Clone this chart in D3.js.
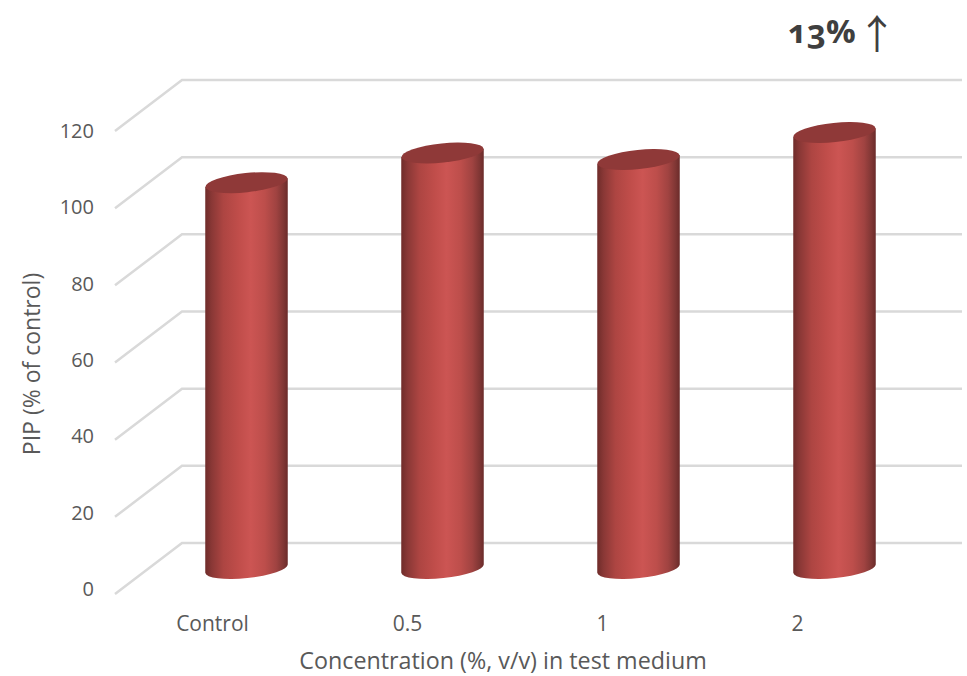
<!DOCTYPE html>
<html>
<head>
<meta charset="utf-8">
<script src="https://cdn.jsdelivr.net/npm/d3@7"></script>
<style>
html,body{margin:0;padding:0;background:#fff;overflow:hidden}
text{font-family:"Open Sans",sans-serif;fill:#595959}
</style>
</head>
<body>
<svg id="c" width="967" height="676"></svg>
<script>
const categories = ["Control","0.5","1","2"];
const values = [100,107.7,106,113];
const yTicks = [0,20,40,60,80,100,120];
const xTitle = "Concentration (%, v/v) in test medium";
const yTitle = "PIP (% of control)";
const note = "13%";
const noteArrow = "\u2191";

const svg = d3.select("#c");
const depth = {dx:67, dy:-51};
const y = d3.scaleLinear().domain([0,120]).range([594,131]);
const yLabel = y.copy().range([589,131]);
const x = d3.scaleBand().domain(categories).range([115,895]);
const xBar = x.copy().range([115,899]);
const barW = 82.5, rx = barW/2, ry = 9.6, tilt = -6;

const defs = svg.append("defs");
const grad = defs.append("linearGradient").attr("id","body").attr("x1","0").attr("x2","1").attr("y1","0").attr("y2","0");
[[0,"#6f2c2a"],[0.08,"#8a3836"],[0.22,"#ad4542"],[0.4,"#c04d4a"],[0.55,"#cc5553"],[0.72,"#bd4e4b"],[0.86,"#a04341"],[0.95,"#7f3634"],[1,"#6b2b2a"]]
  .forEach(d=>grad.append("stop").attr("offset",d[0]).attr("stop-color",d[1]));

// gridlines: side wall + back wall
const grid = svg.append("g").attr("stroke","#d9d9d9").attr("stroke-width",2.5).attr("fill","none");
yTicks.forEach(t=>{
  grid.append("path").attr("d",d3.line()([
    [x.range()[0],y(t)],
    [x.range()[0]+depth.dx,y(t)+depth.dy],
    [x.range()[1]+depth.dx,y(t)+depth.dy]
  ]));
});

// cylinders sit halfway along the depth
const sinT = Math.sin(tilt*Math.PI/180);
const halfRise = rx*sinT;
const bars = svg.append("g").selectAll("g").data(categories).join("g");
bars.each(function(c,i){
  const g = d3.select(this);
  const cx = xBar(c)+xBar.bandwidth()/2+depth.dx/2;
  const yTop = y(values[i])+depth.dy/2;
  const yBot = y(0)+depth.dy/2;
  const L = cx-rx, R = cx+rx;
  g.append("path").attr("fill","url(#body)")
    .attr("d",`M${L},${yTop-halfRise} L${L},${yBot-halfRise} A${rx},${ry} ${tilt} 0 0 ${R},${yBot+halfRise} L${R},${yTop+halfRise} Z`);
  g.append("ellipse").attr("cx",0).attr("cy",0).attr("rx",rx).attr("ry",ry)
    .attr("transform",`translate(${cx},${yTop}) rotate(${tilt})`)
    .attr("fill","#8f3938");
});

// y axis labels
const yAxis = svg.append("g").attr("transform","translate(94,0)")
  .call(d3.axisLeft(yLabel).tickValues(yTicks).tickSize(0).tickPadding(0));
yAxis.select(".domain").remove();
yAxis.selectAll("text").attr("font-size",20).style("font-family",'"Open Sans",sans-serif').attr("fill","#595959");

// x axis labels
const xAxis = svg.append("g").attr("transform","translate(0,616)")
  .call(d3.axisBottom(x).tickSize(0).tickPadding(0));
xAxis.select(".domain").remove();
xAxis.selectAll("text").attr("font-size",21).style("font-family",'"Open Sans",sans-serif').attr("fill","#595959");

svg.append("text").attr("x",503).attr("y",669).attr("text-anchor","middle").attr("font-size",23.3).text(xTitle);
svg.append("text").attr("transform","translate(40,364) rotate(-90)").attr("text-anchor","middle").attr("font-size",23).text(yTitle);

svg.append("text").attr("x",788).attr("y",43).attr("font-size",33).attr("font-weight",700)
  .style("font-family","'Open Sans',sans-serif").style("font-feature-settings","'onum'").style("fill","#3f3f3f").text(note);
svg.append("text").attr("x",877).attr("y",49).attr("text-anchor","middle").attr("font-size",40)
  .style("font-family","'Noto Sans CJK SC',sans-serif").style("fill","#3f3f3f").text(noteArrow);
</script>
</body>
</html>
